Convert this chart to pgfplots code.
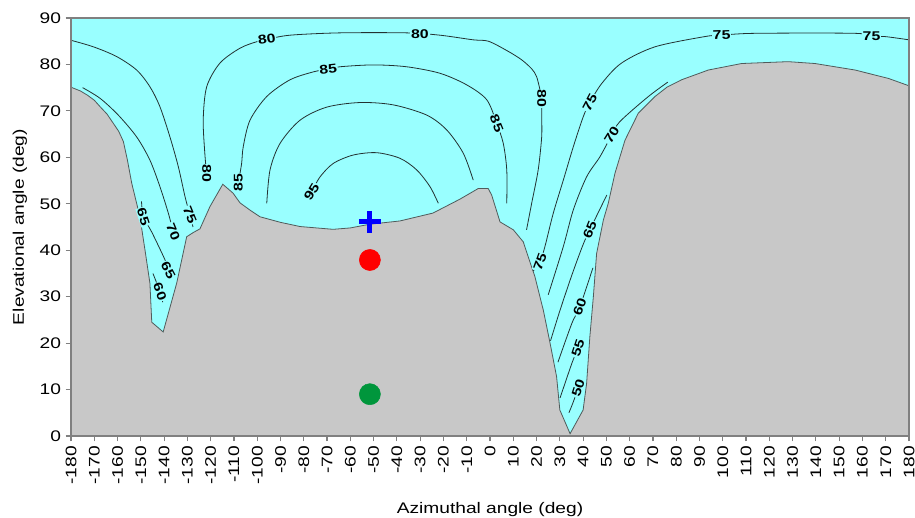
\documentclass[border=0pt]{standalone}
\usepackage{pgfplots}
\pgfplotsset{compat=1.18}
\usepackage{pgfplotstable}
\usepackage{fontspec}
\setmainfont{Liberation Sans}[FakeStretch=1.25]
\definecolor{sky}{RGB}{153,255,255}
\definecolor{terr}{RGB}{200,200,200}
\definecolor{cline}{RGB}{35,50,50}
\definecolor{mgreen}{RGB}{0,150,60}
\tikzset{
  clab/.style={font=\fontsize{9.5}{10}\selectfont\bfseries, fill=sky, inner sep=0.6pt},
  cont/.style={cline, line width=0.6pt, smooth, tension=0.5},
}

\pgfplotstableread{
az el
-180 75.1
-176 74.3
-173 73.4
-170 72.3
-167.5 70.9
-164.5 69.3
-161.8 67.3
-159.5 65.6
-157.5 63.4
-155.8 59.5
-153.9 54.4
-152 50.5
-150.4 47.2
-148.2 40.0
-146.1 32.9
-145.3 24.5
-140.4 22.4
-134.6 32.9
-130.3 42.9
-127.5 43.8
-124.6 44.6
-120.3 49.4
-114.8 54.2
-110.4 52.3
-107.4 50.2
-103 48.6
-98.8 47.2
-90 46.0
-81.6 45.1
-67.4 44.5
-60 44.8
-51.6 45.6
-38.7 46.3
-24.5 48.0
-12.9 51.0
-5.0 53.3
-0.8 53.3
0.7 51.9
4.3 46.1
10 44.4
14.3 41.8
16.4 38.6
19.3 34.3
22.9 27.1
25.8 20.0
28.6 12.8
30.0 5.6
34.4 0.5
40 5.6
41.5 11.3
42.9 21.4
44.4 30.0
45.8 39.3
48.7 46.5
50.8 50.1
53.7 56.6
58 63.7
63.7 69.5
70.9 73.1
76 75.1
82.3 76.7
93.8 78.8
108.1 80.2
128.1 80.6
139.6 80.2
156.8 78.8
171.1 77.0
180 75.4
}\terrain

\begin{document}
\begin{tikzpicture}
\begin{axis}[name=ax, scale only axis, width=628.5pt, height=313.5pt,
  xmin=-180, xmax=180, ymin=0, ymax=90,
  xtick={-180,-170,...,180}, ytick={0,10,...,90},
  tick pos=left, tick align=outside, major tick length=4pt,
  axis line style={draw=black!50, line width=0.9pt},
  tick style={black!50, line width=0.9pt},
  axis background/.style={fill=sky},
  ticklabel style={font=\fontsize{11.5}{13}\selectfont},
  /pgf/number format/assume math mode=true,
  xticklabel style={rotate=90, anchor=east},
  label style={font=\fontsize{11.5}{13}\selectfont},
  xlabel={Azimuthal angle (deg)}, ylabel={Elevational angle (deg)},
  xlabel style={at={(axis description cs:0.5,-0.1842)}, anchor=base},
  ylabel style={at={(axis description cs:-0.0561,0.5)}, anchor=base},
  axis on top,
]
\addplot[fill=terr, draw=none] table[x=az, y=el] {\terrain} \closedcycle;
\addplot[draw=cline!80, line width=0.6pt] table[x=az, y=el] {\terrain};

% contour 75 (left & right)
\addplot[cont] coordinates {(-180,85.2) (-170.4,83.8) (-160.4,81.7) (-151.8,78.8) (-146.1,75.2) (-141.8,70.9) (-137.5,64.4) (-133.9,58.0) (-131.0,51.5) (-128.9,47.6) (-127.6,45.0)};
\addplot[cont] coordinates {(18.5,35.5) (21.5,37.5) (23.6,40.8) (27.2,48.0) (31.5,55.1) (35.8,62.3) (40.1,68.8) (42.9,71.8) (48.0,75.9) (56.5,80.3) (70.9,83.8) (92.3,86.0) (99.5,86.3) (113.8,86.7) (156.8,86.7) (163.9,86.0) (169.7,86.0) (180,85.3)};
% contour 80
\addplot[cont] coordinates {(-121.7,56.6) (-122.4,60.1) (-123.2,68.0) (-121.7,75.2) (-116.0,80.3) (-107.4,83.5) (-100.2,84.9) (-95.9,85.4) (-85.9,86.3) (-64.5,86.8) (-35.8,86.8) (-21.5,86.3) (-7.2,85.3) (-0.7,85.0) (7.2,83.0) (13.6,81.0) (18,79) (20,77.4) (21.5,74.5) (22.2,72.7) (22.2,68.8) (22.2,64.4) (20.7,57.3) (17.9,50.1) (15.7,44.4)};
% contour 85
\addplot[cont] coordinates {(-108.1,54.5) (-106.7,58.7) (-106.0,62.3) (-103.1,68.0) (-95.9,73.1) (-85.9,76.7) (-75.9,78.4) (-69.5,79.0) (-64.5,79.5) (-50.1,79.9) (-35.8,79.5) (-21.5,78.1) (-10.0,75.6) (-1.4,72.4) (2.9,67.3) (5.7,63.0) (7.2,57.3) (7.2,50.1)};
% contour 90
\addplot[cont] coordinates {(-95.9,50.1) (-94.5,57.3) (-90.2,63.0) (-81.6,68.0) (-70.2,70.8) (-55.9,71.8) (-41.6,71.3) (-27.2,69.1) (-18.6,65.9) (-11.5,60.9) (-7.2,55.1)};
% contour 95
\addplot[cont] coordinates {(-76.6,52.6) (-73.0,55.8) (-67.3,58.7) (-58.7,60.5) (-48.7,61.0) (-38.7,59.8) (-31.5,57.3) (-25.8,53.7) (-22.2,50.1)};
% left valley
\addplot[cont] coordinates {(-175.0,75.0) (-167.5,72.7) (-159.7,69.1) (-151.8,64.4) (-146.1,59.4) (-141.8,53.7) (-138.2,48.0) (-136.1,44.0)};
\addplot[cont] coordinates {(-149.7,50.5) (-148.9,47.2) (-145.3,43.9) (-139.6,37.9) (-138.2,35.7)};
\addplot[cont] coordinates {(-144.8,35.0) (-141.8,31.1) (-140.6,28.8)};
% right valley
\addplot[cont] coordinates {(76.4,76.2) (67.8,73.0) (55.8,67.7) (52.3,64.8) (47.2,60.1) (41.5,55.8) (35.8,48.7) (31.5,40.8) (25.0,30.4)};
\addplot[cont] coordinates {(50.2,51.9) (42.9,44.4) (39.9,41.1) (35.2,34.7) (30.1,27.1) (26.0,20.5)};
\addplot[cont] coordinates {(44.2,36.2) (38.6,27.8) (35.2,24.3) (29.2,15.9)};
\addplot[cont] coordinates {(37.8,18.9) (35.2,15.7) (30.1,8.2)};
\addplot[cont] coordinates {(37.9,10.3) (35.6,7.1) (33.9,5.0)};

% labels
\node[clab, rotate=8] at (axis cs:-95.9,85.4) {80};
\node[clab] at (axis cs:-30.1,86.6) {80};
\node[clab, rotate=6] at (axis cs:-69.5,79.0) {85};
\node[clab, rotate=-90] at (axis cs:-121.7,56.6) {80};
\node[clab, rotate=90] at (axis cs:-108.1,54.5) {85};
\node[clab, rotate=58] at (axis cs:-76.6,52.6) {95};
\node[clab, rotate=-68] at (axis cs:2.9,67.3) {85};
\node[clab, rotate=-90] at (axis cs:22.2,72.7) {80};
\node[clab] at (axis cs:163.9,86.0) {75};
\node[clab, rotate=2] at (axis cs:99.5,86.3) {75};
\node[clab, rotate=62] at (axis cs:42.9,71.8) {75};
\node[clab, rotate=70] at (axis cs:21.5,37.5) {75};
\node[clab, rotate=-68] at (axis cs:-128.9,47.6) {75};
\node[clab, rotate=-68] at (axis cs:-136.1,44.0) {70};
\node[clab, rotate=58] at (axis cs:52.3,64.8) {70};
\node[clab, rotate=-72] at (axis cs:-148.9,47.2) {65};
\node[clab, rotate=-62] at (axis cs:-138.2,35.7) {65};
\node[clab, rotate=-70] at (axis cs:-141.8,31.1) {60};
\node[clab, rotate=68] at (axis cs:42.9,44.4) {65};
\node[clab, rotate=70] at (axis cs:38.6,27.8) {60};
\node[clab, rotate=72] at (axis cs:37.8,18.9) {55};
\node[clab, rotate=72] at (axis cs:37.9,10.3) {50};

% markers
\addplot[only marks, mark=+, mark size=8.25pt, blue, line width=3.6pt] coordinates {(-51.6,46.1)};
\addplot[only marks, mark=*, mark size=7.9pt, red, draw=red] coordinates {(-51.6,37.9)};
\addplot[only marks, mark=*, mark size=7.9pt, mgreen, draw=mgreen] coordinates {(-51.6,9.0)};
\end{axis}
\pgfresetboundingbox
\path ([xshift=-53.25pt,yshift=-60.75pt]ax.south west) rectangle ([xshift=4.5pt,yshift=13.5pt]ax.north east);
\end{tikzpicture}
\end{document}
